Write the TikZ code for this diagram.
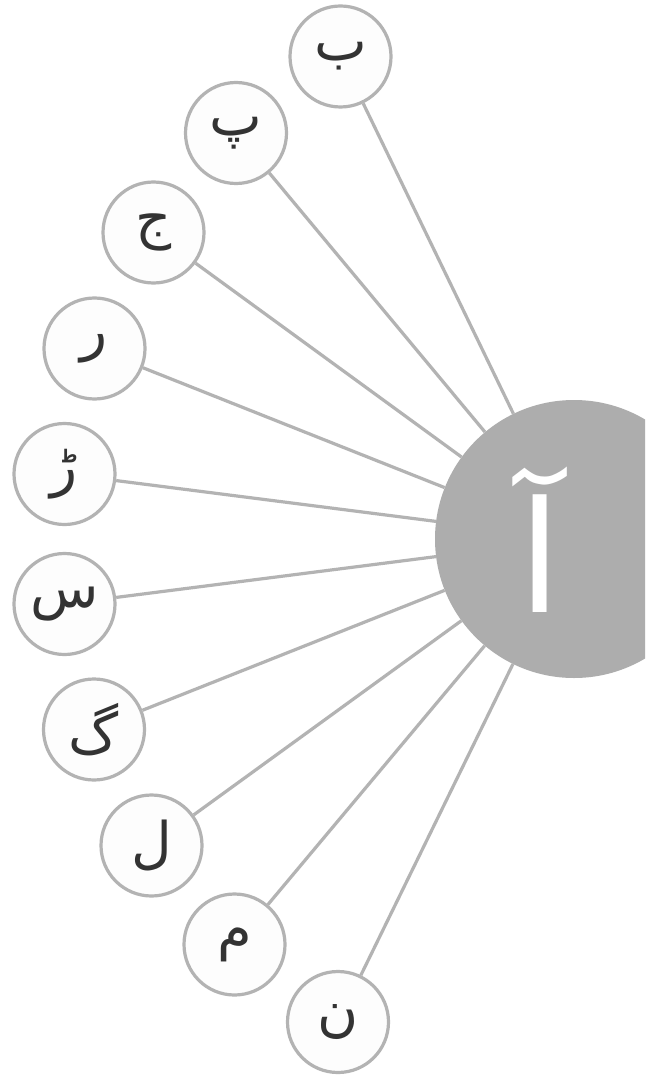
\documentclass[tikz,border=0pt]{standalone}
\usepackage{fontspec}
\TeXXeTstate=1
\newfontfamily\arabicfont[Script=Arabic]{DejaVu Sans}
\definecolor{ringgray}{HTML}{B3B3B3}
\definecolor{biggray}{HTML}{ADADAD}
\definecolor{inkdark}{HTML}{333333}
\definecolor{paper}{HTML}{FDFDFD}
\tikzset{
  letterbox/.style={circle, draw=ringgray, line width=3.2pt, fill=paper,
    minimum size=101pt, inner sep=0pt, text=inkdark,
    font=\arabicfont\fontsize{56}{58}\selectfont},
  bigbox/.style={circle, fill=biggray, minimum size=278pt, inner sep=0pt},
  bigletter/.style={inner sep=0pt, text=white,
    font=\arabicfont\fontsize{155}{155}\selectfont},
  conn/.style={draw=ringgray, line width=3.2pt}
}
\begin{document}
\begin{tikzpicture}[x=1pt,y=-1pt]
\useasboundingbox (0,0) rectangle (663,1075);
\fill[white] (0,0) rectangle (663,1075);
\begin{scope}
  \clip (0,0) rectangle (645,1075);
  \node[bigbox] (big) at (574,539) {};
\end{scope}
\node[bigletter] (alef) at (540,540) {\beginR آ\endR};
\node[letterbox] (b1) at (340.5,56.5) {\beginR ب\endR};
\node[letterbox] (b2) at (236,133) {\beginR پ\endR};
\node[letterbox] (b3) at (153.5,232.5) {\beginR ج\endR};
\node[letterbox] (b4) at (94.5,348.5) {\beginR ر\endR};
\node[letterbox] (b5) at (64.5,474) {\beginR ڑ\endR};
\node[letterbox] (b6) at (64.5,604) {\beginR س\endR};
\node[letterbox] (b7) at (94,729.5) {\beginR گ\endR};
\node[letterbox] (b8) at (151.5,845.5) {\beginR ل\endR};
\node[letterbox] (b9) at (234.5,944.5) {\beginR م\endR};
\node[letterbox] (b10) at (338,1022) {\beginR ن\endR};
\foreach \i in {1,...,10} {
  \draw[conn] (b\i) -- (big);
}
\end{tikzpicture}
\end{document}
